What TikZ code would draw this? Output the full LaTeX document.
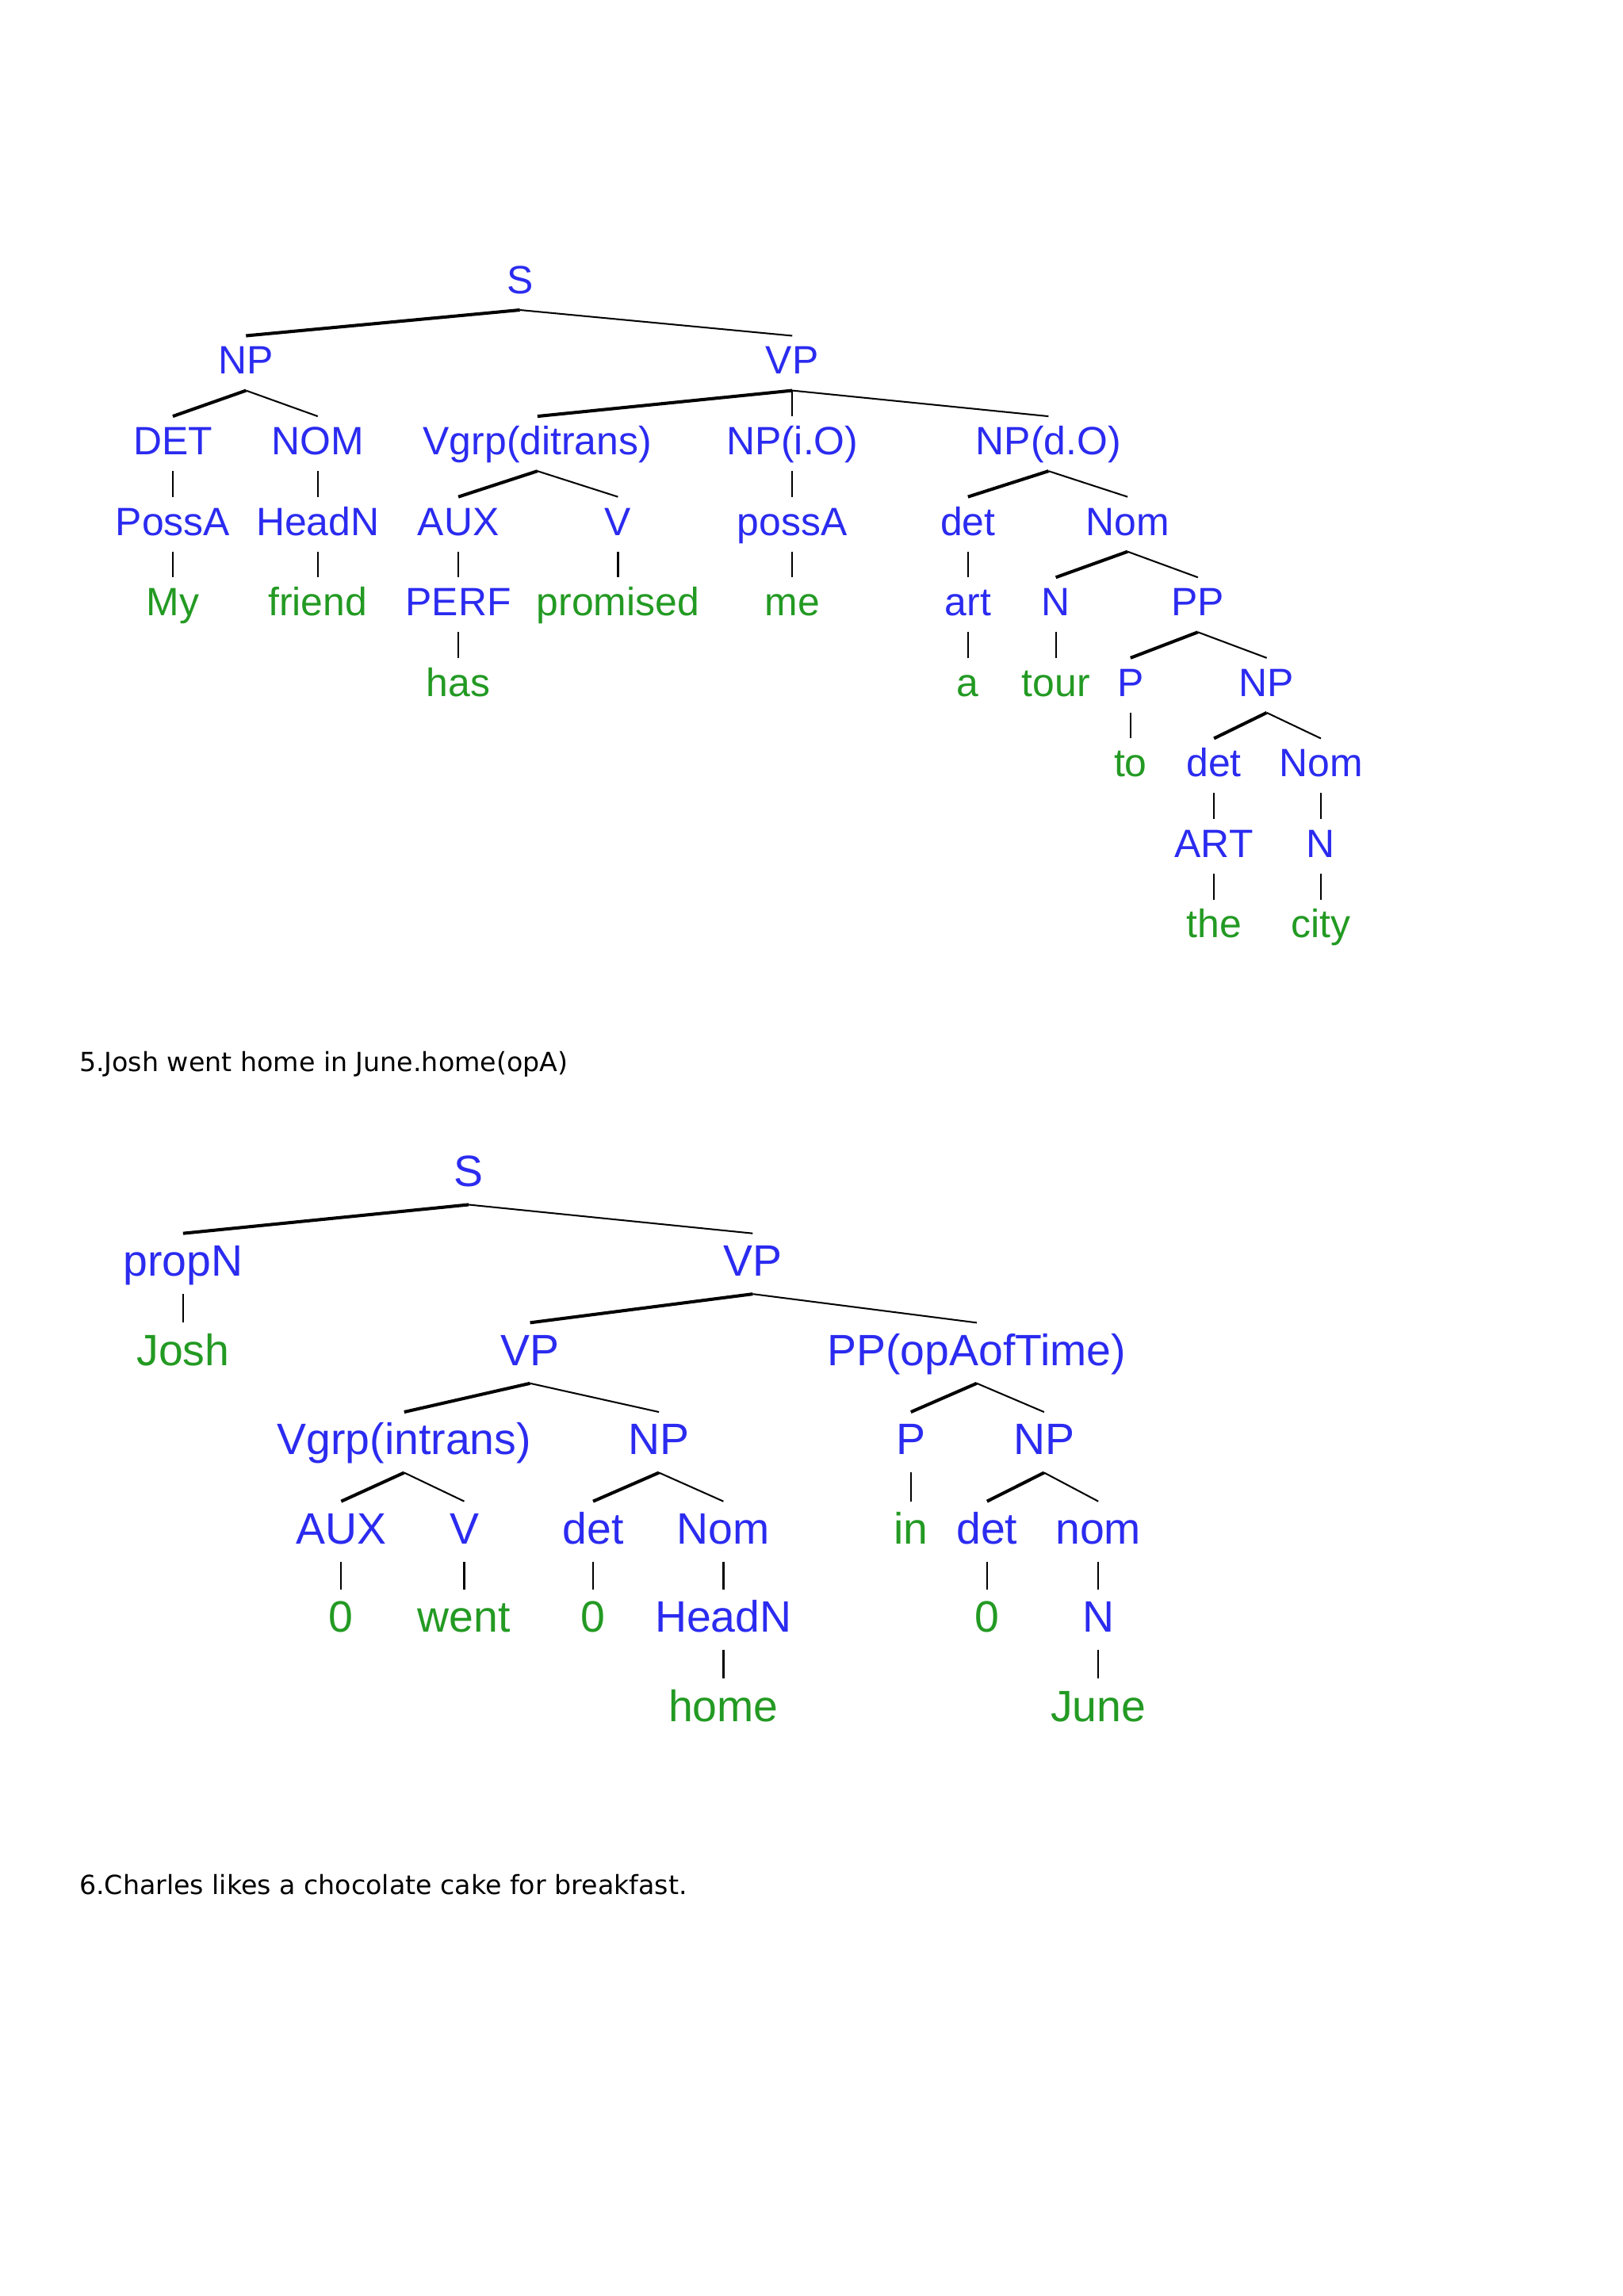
\documentclass[tikz,border=0pt]{standalone}
\usepackage{fontspec}
\setmainfont{Liberation Sans}
\newfontfamily\capfont{DejaVu Sans}
\definecolor{tb}{HTML}{2B2BF0}
\definecolor{tg}{HTML}{239A23}
\begin{document}
\begin{tikzpicture}[x=1pt,y=-1pt,
  b/.style={text=tb,font=\fontsize{27}{30}\selectfont,inner xsep=1,inner ysep=7,text height=19,text depth=4},
  g/.style={b,text=tg},
  b2/.style={b,font=\fontsize{30}{33}\selectfont,inner ysep=8,text height=21},
  g2/.style={b2,text=tg},
  L/.style={line width=2.2},
  R/.style={line width=1.1},
  U/.style={line width=1.2}]
\fill[white] (0,0) rectangle (1108,1568);
\useasboundingbox (0,0) rectangle (1108,1568);
% Tree 1
\node[b] (S) at (355,193) {S};
\node[b] (NP) at (168,248) {NP};
\node[b] (VP) at (541,248) {VP};
\node[b] (DET) at (118,303) {DET};
\node[b] (NOM) at (217,303) {NOM};
\node[b] (Vg) at (367,303) {Vgrp(ditrans)};
\node[b] (NPi) at (541,303) {NP(i.O)};
\node[b] (NPd) at (716,303) {NP(d.O)};
\node[b] (PossA) at (118,358) {PossA};
\node[b] (HeadN) at (217,358) {HeadN};
\node[b] (AUX) at (313,358) {AUX};
\node[b] (V) at (422,358) {V};
\node[b] (possA) at (541,358) {possA};
\node[b] (det) at (661,358) {det};
\node[b] (Nom) at (770,358) {Nom};
\node[g] (My) at (118,413) {My};
\node[g] (friend) at (217,413) {friend};
\node[b] (PERF) at (313,413) {PERF};
\node[g] (promised) at (422,413) {promised};
\node[g] (me) at (541,413) {me};
\node[b] (art) at (661,413) {art};
\node[b] (N) at (721,413) {N};
\node[b] (PP) at (818,413) {PP};
\node[g] (has) at (313,468) {has};
\node[g] (a) at (661,468) {a};
\node[g] (tour) at (721,468) {tour};
\node[b] (P) at (772,468) {P};
\node[b] (NP2) at (865,468) {NP};
\node[g] (to) at (772,523) {to};
\node[b] (det2) at (829,523) {det};
\node[b] (Nom2) at (902,523) {Nom};
\node[b] (ART) at (829,578) {ART};
\node[b] (N2) at (902,578) {N};
\node[g] (the) at (829,633) {the};
\node[g] (city) at (902,633) {city};
\foreach \p/\l/\r in {S/NP/VP,NP/DET/NOM,VP/Vg/NPd,Vg/AUX/V,NPd/det/Nom,Nom/N/PP,PP/P/NP2,NP2/det2/Nom2}{
  \draw[L] (\p.south) -- (\l.north); \draw[R] (\p.south) -- (\r.north);}
\foreach \p/\c in {VP/NPi,DET/PossA,NOM/HeadN,PossA/My,HeadN/friend,AUX/PERF,V/promised,PERF/has,NPi/possA,possA/me,det/art,art/a,N/tour,P/to,det2/ART,ART/the,Nom2/N2,N2/city}
  \draw[U] (\p.south) -- (\c.north);
\node[anchor=west,font=\capfont\fontsize{18}{20}\selectfont,inner sep=0] (c5) at (54,727) {5.Josh went home in June.home(opA)};
% Tree 2
\node[b2] (tS) at (320,802) {S};
\node[b2] (propN) at (125,863) {propN};
\node[b2] (tVP) at (514,863) {VP};
\node[g2] (Josh) at (125,924) {Josh};
\node[b2] (tVP2) at (362,924) {VP};
\node[b2] (tPP) at (667,924) {PP(opAofTime)};
\node[b2] (Vgi) at (276,985) {Vgrp(intrans)};
\node[b2] (tNP) at (450,985) {NP};
\node[b2] (tP) at (622,985) {P};
\node[b2] (tNP2) at (713,985) {NP};
\node[b2] (tAUX) at (233,1046) {AUX};
\node[b2] (tV) at (317,1046) {V};
\node[b2] (tdet) at (405,1046) {det};
\node[b2] (tNom) at (494,1046) {Nom};
\node[g2] (tin) at (622,1046) {in};
\node[b2] (tdet2) at (674,1046) {det};
\node[b2] (tnom) at (750,1046) {nom};
\node[g2] (z1) at (233,1106) {0};
\node[g2] (went) at (317,1106) {went};
\node[g2] (z2) at (405,1106) {0};
\node[b2] (tHeadN) at (494,1106) {HeadN};
\node[g2] (z3) at (674,1106) {0};
\node[b2] (tN) at (750,1106) {N};
\node[g2] (home) at (494,1167) {home};
\node[g2] (June) at (750,1167) {June};
\foreach \p/\l/\r in {tS/propN/tVP,tVP/tVP2/tPP,tVP2/Vgi/tNP,tPP/tP/tNP2,Vgi/tAUX/tV,tNP/tdet/tNom,tNP2/tdet2/tnom}{
  \draw[L] (\p.south) -- (\l.north); \draw[R] (\p.south) -- (\r.north);}
\foreach \p/\c in {propN/Josh,tAUX/z1,tV/went,tdet/z2,tNom/tHeadN,tHeadN/home,tP/tin,tdet2/z3,tnom/tN,tN/June}
  \draw[U] (\p.south) -- (\c.north);
\node[anchor=west,font=\capfont\fontsize{18}{20}\selectfont,inner sep=0] (c6) at (54,1287) {6.Charles likes a chocolate cake for breakfast.};
\end{tikzpicture}
\end{document}
